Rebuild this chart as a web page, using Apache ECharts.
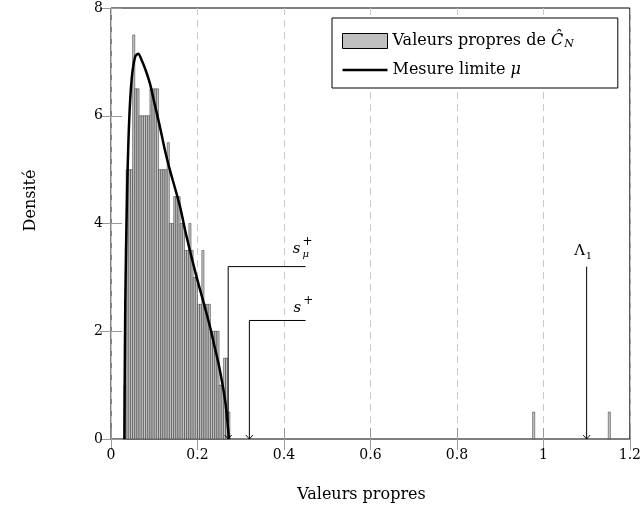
<!DOCTYPE html>
<html>
<head>
<meta charset="utf-8">
<script src="https://cdn.jsdelivr.net/npm/echarts@6/dist/echarts.min.js"></script>
<style>
  html, body { margin: 0; padding: 0; background: #fff; }
  #chart { width: 644px; height: 514px; }
</style>
</head>
<body>
<div id="chart"></div>
<script>
const serif = "DejaVu Serif";

// histogramme : bord gauche de chaque classe et densité
const binWidth = 0.005;
const binLeft = [
  0.030, 0.035, 0.040, 0.045, 0.050, 0.055, 0.060, 0.065, 0.070, 0.075,
  0.080, 0.085, 0.090, 0.095, 0.100, 0.105, 0.110, 0.115, 0.120, 0.125,
  0.130, 0.135, 0.140, 0.145, 0.150, 0.155, 0.160, 0.165, 0.170, 0.175,
  0.180, 0.185, 0.190, 0.195, 0.200, 0.205, 0.210, 0.215, 0.220, 0.225,
  0.230, 0.235, 0.240, 0.245, 0.250, 0.255, 0.260, 0.265, 0.270,
  0.975, 1.150
];
const binHeight = [
  1.0, 5.0, 5.0, 5.0, 7.5, 6.5, 6.5, 6.0, 6.0, 6.0,
  6.0, 6.0, 6.5, 6.5, 6.5, 6.5, 5.0, 5.0, 5.0, 5.0,
  5.5, 4.0, 4.0, 4.5, 4.5, 4.5, 4.0, 4.0, 3.5, 3.5,
  4.0, 3.5, 3.0, 3.0, 2.5, 2.5, 3.5, 2.5, 2.5, 2.5,
  2.0, 2.0, 2.0, 2.0, 1.0, 1.0, 1.5, 1.5, 0.5,
  0.5, 0.5
];

// mesure limite mu
const curveX = [
  0.031, 0.033, 0.037, 0.042, 0.048, 0.056, 0.063, 0.070, 0.080, 0.090,
  0.100, 0.113, 0.125, 0.136, 0.150, 0.160, 0.175, 0.194, 0.205, 0.217,
  0.230, 0.240, 0.250, 0.259, 0.265, 0.270, 0.273
];
const curveY = [
  0.0, 2.5, 4.5, 5.9, 6.7, 7.1, 7.15, 7.05, 6.85, 6.6,
  6.25, 5.8, 5.35, 5.0, 4.6, 4.3, 3.75, 3.13, 2.8, 2.45,
  2.05, 1.7, 1.35, 0.96, 0.65, 0.25, 0.0
];

// annotations : flèche verticale, coude, fin du trait horizontal, étiquette
const annotX = [0.271, 0.32, 1.1];
const annotTop = [3.2, 2.2, 3.2];
const annotEnd = [0.45, 0.45, 1.1];
const annotLabelX = [0.429, 0.431, 1.084];
const annotLabelY = [3.52, 2.43, 3.48];
const annotBase = ["s", "s", "Λ"];
const annotSup = ["+", "+", ""];
const annotSub = ["μ", "", "1"];

const xTicks = [0, 1.2, 0.2];
const yTicks = [0, 8, 2];

const histData = binLeft.map((x, i) => [x, binHeight[i]]);
const curveData = curveX.map((x, i) => [x, curveY[i]]);
const annotData = annotX.map((x, i) => [x, annotTop[i], annotEnd[i], annotLabelX[i], annotLabelY[i], i]);

const tickStyle = { show: true, inside: true, length: 11, lineStyle: { color: "#999", width: 1 } };

const option = {
  animation: false,
  grid: {
    left: 111, right: 14, top: 8, bottom: 75,
    show: true, borderColor: "#000", borderWidth: 1,
  },
  legend: {
    orient: "vertical",
    left: 332, top: 18,
    padding: [14, 44, 10, 10],
    itemGap: 12,
    itemWidth: 45, itemHeight: 15,
    borderColor: "#000", borderWidth: 1,
    backgroundColor: "#fff",
    selectedMode: false,
    data: [
      { name: "hist", icon: "rect", itemStyle: { color: "#bfbfbf", borderColor: "#000", borderWidth: 1 } },
      // trait horizontal : les "M" fixent la boîte 45x15 du symbole
      { name: "mu", icon: "path://M0,0 M45,15 M0,6.25 L45,6.25 L45,8.75 L0,8.75 Z", itemStyle: { color: "#000", borderWidth: 0 } },
    ],
    formatter: (name) => name === "hist"
      ? "{t|Valeurs propres de }{i|Ĉ}{sub|N}"
      : "{t|Mesure limite }{i|μ}",
    textStyle: {
      rich: {
        t: { fontFamily: serif, fontSize: 16, color: "#000", lineHeight: 15 },
        i: { fontFamily: serif, fontSize: 16, fontStyle: "italic", color: "#000", lineHeight: 15 },
        sub: { fontFamily: serif, fontSize: 11, fontStyle: "italic", color: "#000", lineHeight: 15, padding: [7, 0, 0, 1] },
      },
    },
  },
  xAxis: [
    {
      type: "value", position: "bottom",
      min: xTicks[0], max: xTicks[1], interval: xTicks[2],
      name: "Valeurs propres", nameLocation: "middle", nameGap: 48,
      nameTextStyle: { fontFamily: serif, fontSize: 16, color: "#000", padding: [0, 18, 0, 0] },
      axisLine: { show: false },
      axisTick: tickStyle,
      axisLabel: { fontFamily: serif, fontSize: 14, color: "#000", margin: 9 },
      splitLine: { show: true, lineStyle: { color: "#c8c8c8", type: [7, 5], width: 1 } },
    },
    {
      type: "value", position: "top",
      min: xTicks[0], max: xTicks[1], interval: xTicks[2],
      axisLine: { show: false }, axisTick: tickStyle,
      axisLabel: { show: false }, splitLine: { show: false },
    },
  ],
  yAxis: [
    {
      type: "value", position: "left",
      min: yTicks[0], max: yTicks[1], interval: yTicks[2],
      name: "Densité", nameLocation: "middle", nameGap: 72,
      nameTextStyle: { fontFamily: serif, fontSize: 16, color: "#000", padding: [0, 0, 0, 46] },
      axisLine: { show: false },
      axisTick: tickStyle,
      axisLabel: { fontFamily: serif, fontSize: 14, color: "#000", margin: 8 },
      splitLine: { show: false },
    },
    {
      type: "value", position: "right",
      min: yTicks[0], max: yTicks[1], interval: yTicks[2],
      axisLine: { show: false }, axisTick: tickStyle,
      axisLabel: { show: false }, splitLine: { show: false },
    },
  ],
  series: [
    {
      name: "hist",
      type: "custom",
      data: histData,
      itemStyle: { color: "#bfbfbf" },
      z: 2,
      renderItem: (params, api) => {
        const p0 = api.coord([api.value(0), api.value(1)]);
        const p1 = api.coord([api.value(0) + binWidth, 0]);
        return {
          type: "rect",
          shape: { x: p0[0], y: p0[1], width: p1[0] - p0[0], height: p1[1] - p0[1] },
          style: { fill: "#c4c4c4", stroke: "#1a1a1a", lineWidth: 0.45 },
        };
      },
    },
    {
      name: "mu",
      type: "line",
      data: curveData,
      smooth: 0.3,
      symbol: "none",
      showSymbol: false,
      color: "#000",
      lineStyle: { color: "#000", width: 2.5 },
      z: 3,
    },
    {
      name: "annot",
      type: "custom",
      data: annotData,
      z: 4,
      silent: true,
      renderItem: (params, api) => {
        const i = api.value(5);
        const top = api.coord([api.value(0), api.value(1)]);
        const bottom = api.coord([api.value(0), 0]);
        const end = api.coord([api.value(2), api.value(1)]);
        const lab = api.coord([api.value(3), api.value(4)]);
        const children = [
          {
            type: "polyline",
            shape: { points: [end, top, bottom] },
            style: { stroke: "#000", lineWidth: 1, fill: null },
          },
          {
            type: "polyline",
            shape: { points: [[bottom[0] - 3.5, bottom[1] - 4], bottom, [bottom[0] + 3.5, bottom[1] - 4]] },
            style: { stroke: "#000", lineWidth: 0.9, fill: null },
          },
          {
            type: "text",
            style: {
              x: lab[0], y: lab[1], text: annotBase[i],
              font: (annotBase[i] === "s" ? "italic " : "") + "15px '" + serif + "'",
              fill: "#000", align: "center", verticalAlign: "middle",
            },
          },
        ];
        if (annotSup[i]) {
          children.push({
            type: "text",
            style: {
              x: lab[0] + 6, y: lab[1] - 7, text: annotSup[i],
              font: "12px '" + serif + "'", fill: "#000", align: "left", verticalAlign: "middle",
            },
          });
        }
        if (annotSub[i]) {
          children.push({
            type: "text",
            style: {
              x: lab[0] + 6, y: lab[1] + 5, text: annotSub[i],
              font: (annotSub[i] === "μ" ? "italic " : "") + "10px '" + serif + "'",
              fill: "#000", align: "left", verticalAlign: "middle",
            },
          });
        }
        return { type: "group", children };
      },
    },
  ],
};

const myChart = echarts.init(document.getElementById("chart"), null, { renderer: "canvas" });
myChart.setOption(option);
</script>
</body>
</html>
